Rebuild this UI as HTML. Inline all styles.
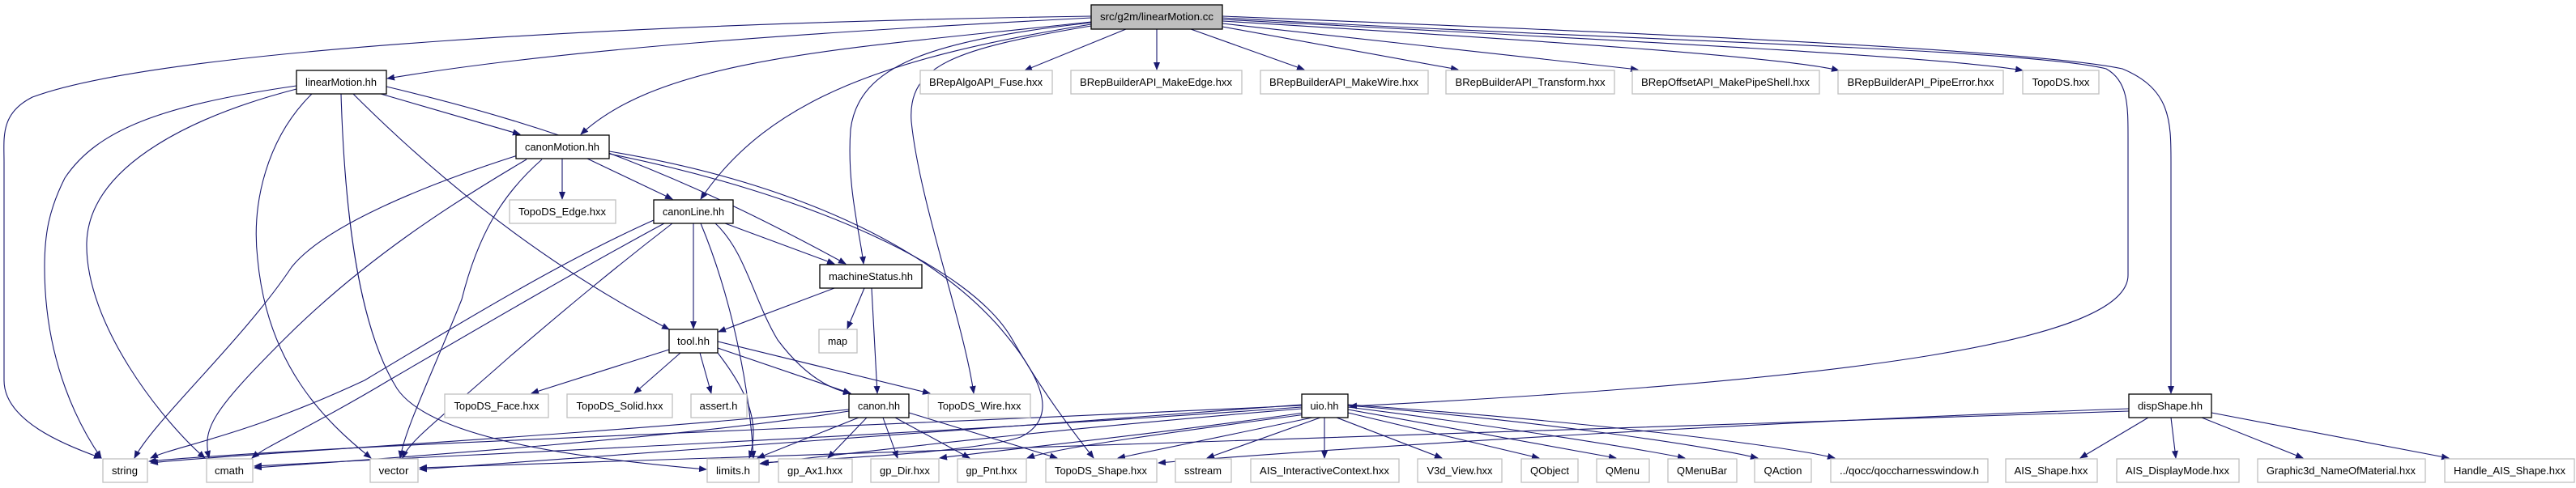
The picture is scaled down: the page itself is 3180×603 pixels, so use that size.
<!DOCTYPE html>
<html><head><meta charset="utf-8"><style>
html,body{margin:0;padding:0;background:#fff;}
svg{display:block;}
text{font-family:"Liberation Sans",sans-serif;font-size:13px;fill:#000;}
</style></head><body>
<svg width="3180" height="603" viewBox="0 0 3180 603" xmlns="http://www.w3.org/2000/svg">
<defs>
<marker id="a" markerWidth="10" markerHeight="8" refX="9" refY="4" orient="auto" markerUnits="userSpaceOnUse">
<path d="M0,0 L10,4 L0,8 Z" fill="#191970"/>
</marker>
</defs>
<g fill="none" stroke="#191970" stroke-width="1.1" marker-end="url(#a)">
<path d="M1347,22 C1000,40 700,60 478,97"/>
<path d="M1347,20 C800,28 200,60 40,120 C0,140 5,170 5,200 L5,470 C5,520 80,550 125,566"/>
<path d="M1347,27 C1050,60 820,70 717,166"/>
<path d="M1347,30 C1100,70 950,120 865,246"/>
<path d="M1347,28 C1150,50 1060,80 1050,160 C1045,230 1062,290 1066,326"/>
<path d="M1347,32 C1180,60 1120,80 1125,150 C1135,250 1190,400 1202,486"/>
<path d="M1509,22 C2000,50 2500,60 2600,85 C2627,100 2627,130 2627,170 L2627,340 C2627,420 2300,470 1666,502"/>
<path d="M1509,20 C2000,40 2500,60 2620,85 C2680,110 2680,150 2680,200 L2680,486"/>
<path d="M1390,36 L1265,87"/>
<path d="M1428,36 L1428,86"/>
<path d="M1470,36 L1610,86"/>
<path d="M1509,33 L1800,86"/>
<path d="M1509,29 L2022,86"/>
<path d="M1509,26 C1900,50 2200,70 2270,87"/>
<path d="M1509,24 C2000,50 2400,70 2497,87"/>
<path d="M470,116 L642,166"/>
<path d="M366,106 C200,130 120,160 80,220 C60,260 55,290 55,330 C55,450 100,530 125,566"/>
<path d="M366,110 C250,140 110,200 107,300 C105,400 200,520 253,566"/>
<path d="M385,116 C330,170 310,250 318,320 C330,450 400,520 458,566"/>
<path d="M421,116 C425,250 440,400 490,480 C530,540 700,565 872,580"/>
<path d="M436,116 Q620,300 826,407"/>
<path d="M477,107 C700,160 850,220 1044,326"/>
<path d="M694,196 L694,246"/>
<path d="M725,196 L830,246"/>
<path d="M639,192 C520,230 400,280 360,330 C300,420 190,520 166,566"/>
<path d="M650,197 C560,250 450,320 350,420 C260,510 250,530 258,566"/>
<path d="M669,197 C620,240 590,290 570,370 C530,470 500,530 494,566"/>
<path d="M752,187 C950,220 1130,290 1230,400 C1300,480 1300,520 1260,540 C1200,560 1000,568 940,572"/>
<path d="M752,190 C1000,240 1200,330 1250,420 C1290,490 1330,540 1350,566"/>
<path d="M807,272 C700,320 600,380 450,470 C300,540 220,550 186,566"/>
<path d="M820,276 C720,330 600,400 480,470 C380,530 330,550 311,566"/>
<path d="M830,276 C760,330 700,380 630,440 C540,520 505,545 497,566"/>
<path d="M856,276 L856,406"/>
<path d="M865,276 C900,360 925,470 930,566"/>
<path d="M883,276 C920,310 930,370 960,420 C990,460 1020,480 1050,486"/>
<path d="M895,276 L1030,326"/>
<path d="M1030,356 L887,410"/>
<path d="M1067,356 L1046,406"/>
<path d="M1076,356 L1083,486"/>
<path d="M826,432 L656,486"/>
<path d="M840,436 L783,486"/>
<path d="M864,436 L878,486"/>
<path d="M886,430 L1050,486"/>
<path d="M886,422 L1148,486"/>
<path d="M886,436 C920,480 940,520 925,566"/>
<path d="M1048,506 C700,540 300,560 186,572"/>
<path d="M1048,508 C850,540 500,565 314,578"/>
<path d="M1060,516 L935,566"/>
<path d="M1070,516 L1022,566"/>
<path d="M1090,516 L1108,566"/>
<path d="M1105,516 L1197,566"/>
<path d="M1122,510 L1305,566"/>
<path d="M1607,500 C1200,530 700,570 518,580"/>
<path d="M1607,501 C1000,530 400,550 184,570"/>
<path d="M1607,503 C1100,540 500,565 314,576"/>
<path d="M1607,505 C1300,530 1050,560 938,573"/>
<path d="M1610,510 C1400,540 1200,560 1160,566"/>
<path d="M1612,512 C1400,540 1300,555 1268,566"/>
<path d="M1620,516 L1380,566"/>
<path d="M1630,516 L1490,566"/>
<path d="M1635,516 L1635,566"/>
<path d="M1650,516 L1780,566"/>
<path d="M1664,510 L1900,566"/>
<path d="M1664,506 L1995,566"/>
<path d="M1664,503 C1800,520 2000,550 2080,566"/>
<path d="M1664,501 C1900,520 2100,550 2170,566"/>
<path d="M1664,500 C1950,520 2200,550 2265,566"/>
<path d="M2628,505 C2200,520 1700,550 1430,572"/>
<path d="M2628,508 C2000,530 1000,560 518,578"/>
<path d="M2652,516 L2568,566"/>
<path d="M2680,516 L2686,566"/>
<path d="M2718,516 L2843,566"/>
<path d="M2730,510 L3023,566"/>
</g>

<g stroke-width="1.3">
<rect x="1347" y="6" width="162" height="30" fill="#bfbfbf" stroke="#000"/>
<g fill="#fff" stroke="#000">
<rect x="366" y="87" width="111" height="29"/>
<rect x="637" y="167" width="115" height="29"/>
<rect x="807" y="247" width="98" height="29"/>
<rect x="1012" y="327" width="126" height="29"/>
<rect x="826" y="407" width="60" height="29"/>
<rect x="1048" y="487" width="74" height="29"/>
<rect x="1607" y="487" width="57" height="29"/>
<rect x="2628" y="487" width="102" height="29"/>
</g>
<g fill="#fff" stroke="#bfbfbf">
<rect x="1136" y="87" width="163" height="29"/>
<rect x="1322" y="87" width="211" height="29"/>
<rect x="1556" y="87" width="207" height="29"/>
<rect x="1785" y="87" width="208" height="29"/>
<rect x="2015" y="87" width="231" height="29"/>
<rect x="2269" y="87" width="204" height="29"/>
<rect x="2497" y="87" width="94" height="29"/>
<rect x="629" y="247" width="131" height="29"/>
<rect x="1011" y="407" width="47" height="29"/>
<rect x="549" y="487" width="128" height="29"/>
<rect x="700" y="487" width="130" height="29"/>
<rect x="853" y="487" width="69" height="29"/>
<rect x="1146" y="487" width="126" height="29"/>
<rect x="127" y="567" width="55" height="29"/>
<rect x="255" y="567" width="57" height="29"/>
<rect x="457" y="567" width="59" height="29"/>
<rect x="873" y="567" width="64" height="29"/>
<rect x="961" y="567" width="91" height="29"/>
<rect x="1075" y="567" width="84" height="29"/>
<rect x="1182" y="567" width="85" height="29"/>
<rect x="1291" y="567" width="137" height="29"/>
<rect x="1451" y="567" width="69" height="29"/>
<rect x="1544" y="567" width="183" height="29"/>
<rect x="1750" y="567" width="104" height="29"/>
<rect x="1878" y="567" width="70" height="29"/>
<rect x="1971" y="567" width="65" height="29"/>
<rect x="2059" y="567" width="85" height="29"/>
<rect x="2166" y="567" width="70" height="29"/>
<rect x="2260" y="567" width="194" height="29"/>
<rect x="2476" y="567" width="113" height="29"/>
<rect x="2613" y="567" width="151" height="29"/>
<rect x="2787" y="567" width="207" height="29"/>
<rect x="3018" y="567" width="160" height="29"/>
</g>
</g>

<g text-anchor="middle">
<text x="1428" y="25" textLength="140" lengthAdjust="spacingAndGlyphs">src/g2m/linearMotion.cc</text>
<text x="421" y="106" textLength="88" lengthAdjust="spacingAndGlyphs">linearMotion.hh</text>
<text x="694" y="186" textLength="92" lengthAdjust="spacingAndGlyphs">canonMotion.hh</text>
<text x="856" y="266" textLength="76" lengthAdjust="spacingAndGlyphs">canonLine.hh</text>
<text x="1075" y="346" textLength="104" lengthAdjust="spacingAndGlyphs">machineStatus.hh</text>
<text x="856" y="426" textLength="40" lengthAdjust="spacingAndGlyphs">tool.hh</text>
<text x="1085" y="506" textLength="52" lengthAdjust="spacingAndGlyphs">canon.hh</text>
<text x="1635" y="506" textLength="35" lengthAdjust="spacingAndGlyphs">uio.hh</text>
<text x="2679" y="506" textLength="80" lengthAdjust="spacingAndGlyphs">dispShape.hh</text>
<text x="1217" y="106" textLength="140" lengthAdjust="spacingAndGlyphs">BRepAlgoAPI_Fuse.hxx</text>
<text x="1427" y="106" textLength="188" lengthAdjust="spacingAndGlyphs">BRepBuilderAPI_MakeEdge.hxx</text>
<text x="1659" y="106" textLength="184" lengthAdjust="spacingAndGlyphs">BRepBuilderAPI_MakeWire.hxx</text>
<text x="1889" y="106" textLength="185" lengthAdjust="spacingAndGlyphs">BRepBuilderAPI_Transform.hxx</text>
<text x="2130" y="106" textLength="208" lengthAdjust="spacingAndGlyphs">BRepOffsetAPI_MakePipeShell.hxx</text>
<text x="2371" y="106" textLength="181" lengthAdjust="spacingAndGlyphs">BRepBuilderAPI_PipeError.hxx</text>
<text x="2544" y="106" textLength="71" lengthAdjust="spacingAndGlyphs">TopoDS.hxx</text>
<text x="694" y="266" textLength="108" lengthAdjust="spacingAndGlyphs">TopoDS_Edge.hxx</text>
<text x="1034" y="426" textLength="24" lengthAdjust="spacingAndGlyphs">map</text>
<text x="613" y="506" textLength="105" lengthAdjust="spacingAndGlyphs">TopoDS_Face.hxx</text>
<text x="765" y="506" textLength="107" lengthAdjust="spacingAndGlyphs">TopoDS_Solid.hxx</text>
<text x="887" y="506" textLength="47" lengthAdjust="spacingAndGlyphs">assert.h</text>
<text x="1209" y="506" textLength="103" lengthAdjust="spacingAndGlyphs">TopoDS_Wire.hxx</text>
<text x="154" y="586" textLength="32" lengthAdjust="spacingAndGlyphs">string</text>
<text x="283" y="586" textLength="36" lengthAdjust="spacingAndGlyphs">cmath</text>
<text x="486" y="586" textLength="37" lengthAdjust="spacingAndGlyphs">vector</text>
<text x="905" y="586" textLength="42" lengthAdjust="spacingAndGlyphs">limits.h</text>
<text x="1006" y="586" textLength="68" lengthAdjust="spacingAndGlyphs">gp_Ax1.hxx</text>
<text x="1117" y="586" textLength="62" lengthAdjust="spacingAndGlyphs">gp_Dir.hxx</text>
<text x="1224" y="586" textLength="63" lengthAdjust="spacingAndGlyphs">gp_Pnt.hxx</text>
<text x="1359" y="586" textLength="114" lengthAdjust="spacingAndGlyphs">TopoDS_Shape.hxx</text>
<text x="1485" y="586" textLength="46" lengthAdjust="spacingAndGlyphs">sstream</text>
<text x="1635" y="586" textLength="160" lengthAdjust="spacingAndGlyphs">AIS_InteractiveContext.hxx</text>
<text x="1802" y="586" textLength="81" lengthAdjust="spacingAndGlyphs">V3d_View.hxx</text>
<text x="1913" y="586" textLength="48" lengthAdjust="spacingAndGlyphs">QObject</text>
<text x="2003" y="586" textLength="42" lengthAdjust="spacingAndGlyphs">QMenu</text>
<text x="2101" y="586" textLength="62" lengthAdjust="spacingAndGlyphs">QMenuBar</text>
<text x="2201" y="586" textLength="47" lengthAdjust="spacingAndGlyphs">QAction</text>
<text x="2357" y="586" textLength="172" lengthAdjust="spacingAndGlyphs">../qocc/qoccharnesswindow.h</text>
<text x="2532" y="586" textLength="91" lengthAdjust="spacingAndGlyphs">AIS_Shape.hxx</text>
<text x="2688" y="586" textLength="128" lengthAdjust="spacingAndGlyphs">AIS_DisplayMode.hxx</text>
<text x="2890" y="586" textLength="184" lengthAdjust="spacingAndGlyphs">Graphic3d_NameOfMaterial.hxx</text>
<text x="3098" y="586" textLength="138" lengthAdjust="spacingAndGlyphs">Handle_AIS_Shape.hxx</text>
</g>
</svg>
</body></html>
